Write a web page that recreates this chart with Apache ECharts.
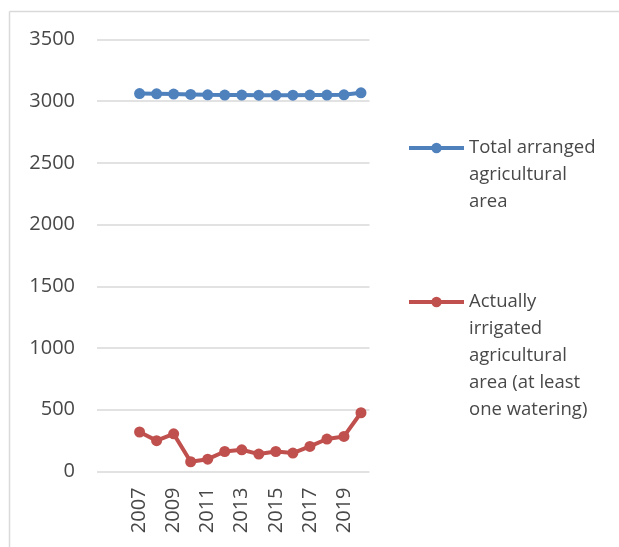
<!DOCTYPE html>
<html>
<head>
<meta charset="utf-8">
<script src="https://cdn.jsdelivr.net/npm/echarts@6/dist/echarts.min.js"></script>
<style>
  html, body { margin: 0; padding: 0; background: #fff; }
  #chart { width: 619px; height: 547px; }
</style>
</head>
<body>
<div id="chart"></div>
<script>
// years shown on the axis (two blank slots come first, as in the original sheet)
var years = ['2007', '2008', '2009', '2010', '2011', '2012', '2013', '2014',
             '2015', '2016', '2017', '2018', '2019', '2020'];
var totalArea = [3062, 3060, 3058, 3055, 3052, 3050, 3050, 3049, 3049, 3049, 3050, 3050, 3052, 3068];
var irrigatedArea = [320, 250, 305, 79, 100, 162, 176, 141, 162, 149, 203, 263, 284, 476];
var yTicks = { min: 0, max: 3500, step: 500 };

var nameTotal = 'Total arranged\nagricultural\narea';
var nameIrrig = 'Actually\nirrigated\nagricultural\narea (at least\none watering)';

var blue = '#4F81BD';
var red = '#C0504D';
var txt = '#484848';
var font = 'Open Sans';
var lh = 27;

var cats = ['', ''].concat(years);
var pad = [null, null];

var chart = echarts.init(document.getElementById('chart'));
var option;

// legend text is centred on the icon, so pad with empty lines on top
// to keep the icon level with the first line (like excel does)
function legendFor(name, color, centerY) {
    var lines = name.split('\n').length;
    return {
        data: [name],
        left: 407,
        top: centerY - (2 * lines - 1) * lh / 2,
        padding: 0,
        itemWidth: 55,
        itemHeight: 13,
        selectedMode: false,
        formatter: function (n) {
            return new Array(lines).join(' \n') + n;
        },
        lineStyle: { width: 4, color: color },
        textStyle: { color: txt, fontFamily: font, fontSize: 18.5, lineHeight: lh }
    };
}

option = {
    animation: false,
    backgroundColor: '#fff',
    grid: { left: 97, right: 249.5, top: 39.5, bottom: 75.5 },
    legend: [
        legendFor(nameTotal, blue, 148),
        legendFor(nameIrrig, red, 302)
    ],
    xAxis: {
        type: 'category',
        data: cats,
        boundaryGap: true,
        axisLine: { show: false },
        axisTick: { show: false },
        axisLabel: {
            interval: 1,
            rotate: 90,
            margin: 16,
            color: txt,
            fontFamily: font,
            fontSize: 20
        }
    },
    yAxis: {
        type: 'value',
        min: yTicks.min,
        max: yTicks.max,
        interval: yTicks.step,
        axisLine: { show: false },
        axisTick: { show: false },
        axisLabel: {
            margin: 22, color: txt, fontFamily: font, fontSize: 20,
            formatter: function (v) { return String(v); }
        },
        splitLine: { lineStyle: { color: '#D9D9D9', width: 1.5 } }
    },
    series: [
        {
            name: nameTotal,
            type: 'line',
            data: pad.concat(totalArea),
            symbol: 'circle',
            symbolSize: 11,
            itemStyle: { color: blue },
            lineStyle: { color: blue, width: 4 }
        },
        {
            name: nameIrrig,
            type: 'line',
            data: pad.concat(irrigatedArea),
            symbol: 'circle',
            symbolSize: 11,
            itemStyle: { color: red },
            lineStyle: { color: red, width: 4 }
        }
    ],
    graphic: [
        { type: 'line', shape: { x1: 9.5, y1: 11.5, x2: 619, y2: 11.5 }, style: { stroke: '#D9D9D9', lineWidth: 1.5 } },
        { type: 'line', shape: { x1: 9.5, y1: 11.5, x2: 9.5, y2: 547 }, style: { stroke: '#D9D9D9', lineWidth: 1.5 } }
    ]
};

option && chart.setOption(option);
</script>
</body>
</html>
